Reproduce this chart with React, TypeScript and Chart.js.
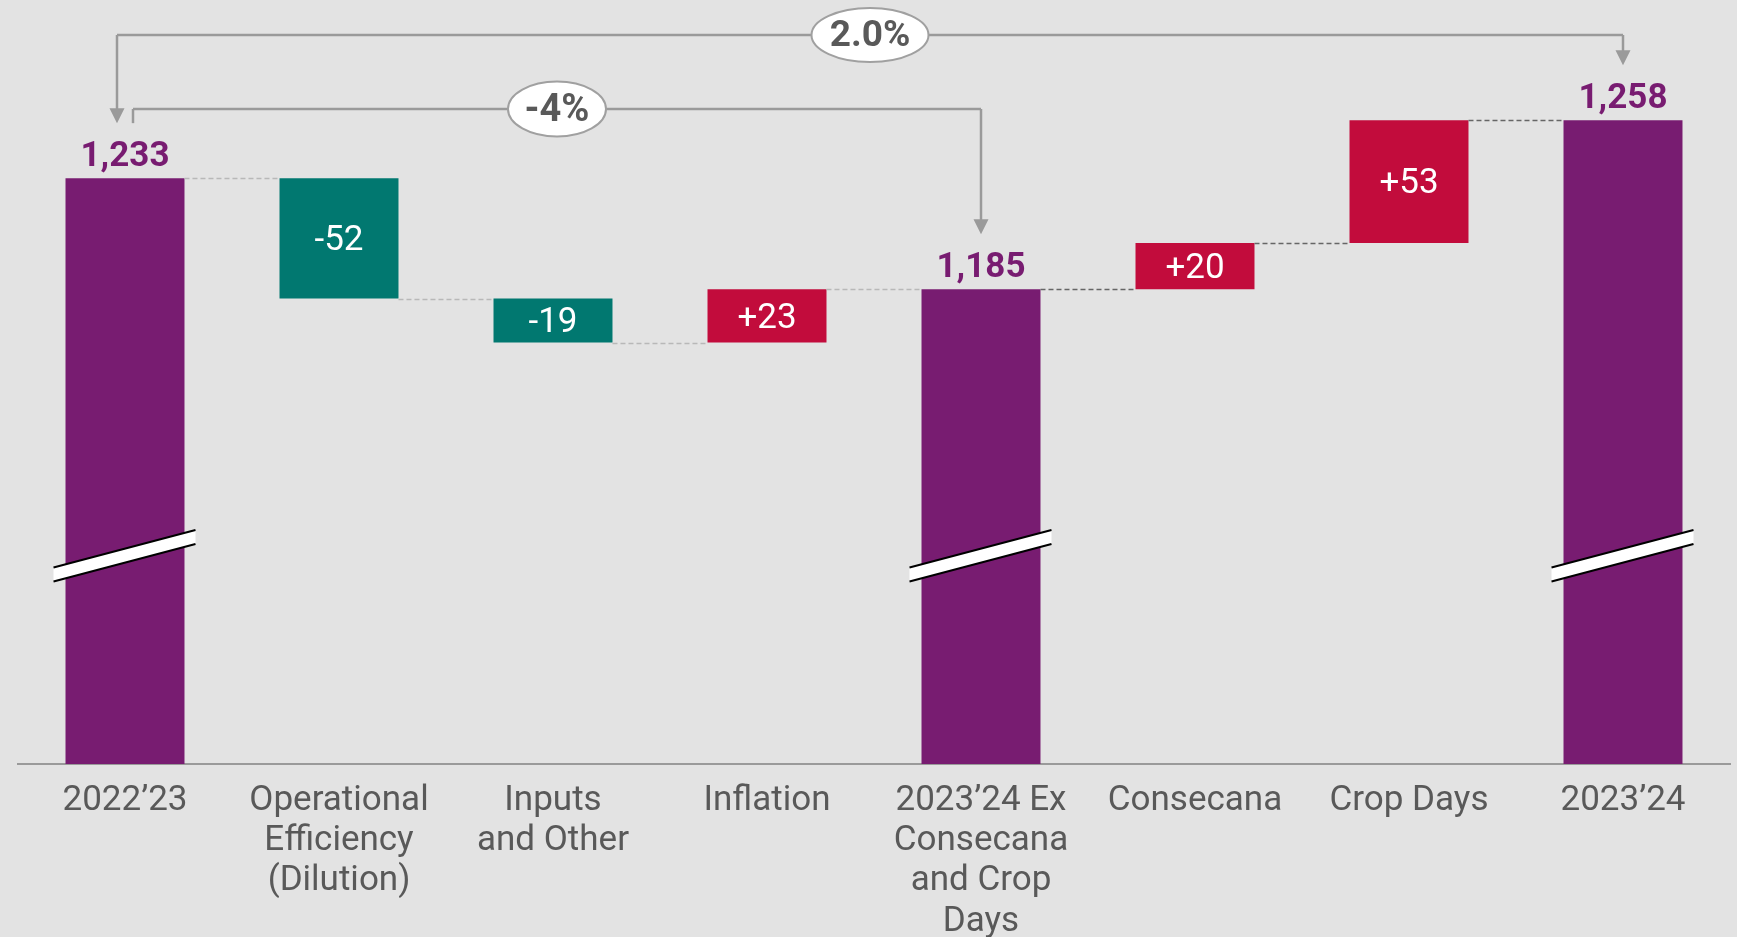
import React, { useEffect, useRef } from 'react';
import { Chart, registerables } from 'chart.js';

Chart.register(...registerables);

// ---------- data ----------
const categories: (string | string[])[] = [
  '2022’23',
  ['Operational', 'Efficiency', '(Dilution)'],
  ['Inputs', 'and Other'],
  'Inflation',
  ['2023’24 Ex', 'Consecana', 'and Crop', 'Days'],
  'Consecana',
  'Crop Days',
  '2023’24',
];
const totalValues: (number | null)[] = [1233, null, null, null, 1185, null, null, 1258];
const deltaValues: (number | null)[] = [null, -52, -19, 23, null, 20, 53, null];
const axisMin = 980;
const axisMax = 1300;
const breakValue = 1070;
const bracketFrom = [0, 0];
const bracketTo = [7, 4];
const bracketText = ['2.0%', '-4%'];

// ---------- styles ----------
const BG = '#e3e3e3';
const PURPLE = '#781c71';
const TEAL = '#017870';
const RED = '#c20c3c';
const TEXT = '#595959';
const FONT = 'Roboto, "Noto Sans", sans-serif';

// build floating ranges and running levels
const ranges: [number, number][] = [];
const levels: number[] = [];
const colors: string[] = [];
{
  let running = 0;
  for (let i = 0; i < categories.length; i++) {
    const t = totalValues[i];
    const d = deltaValues[i];
    if (t != null) {
      ranges.push([axisMin, t]);
      running = t;
      colors.push(PURPLE);
    } else if (d != null) {
      const end = running + d;
      ranges.push([Math.min(running, end), Math.max(running, end)]);
      running = end;
      colors.push(d < 0 ? TEAL : RED);
    }
    levels.push(running);
  }
}

const customPlugin = {
  id: 'waterfallExtras',
  beforeDraw(chart: any) {
    const ctx = chart.ctx;
    ctx.save();
    ctx.fillStyle = BG;
    ctx.fillRect(0, 0, chart.width, chart.height);
    ctx.restore();
  },
  afterDatasetsDraw(chart: any) {
    const ctx: CanvasRenderingContext2D = chart.ctx;
    const meta = chart.getDatasetMeta(0);
    const yScale = chart.scales.y;
    const bars = meta.data.map((el: any) => {
      const top = Math.min(el.y, el.base);
      const bottom = Math.max(el.y, el.base);
      return { x: el.x, w: el.width, top, bottom };
    });

    ctx.save();
    // connectors
    for (let i = 0; i < bars.length - 1; i++) {
      const a = bars[i];
      const b = bars[i + 1];
      const yy = Math.round(yScale.getPixelForValue(levels[i])) + 0.5;
      ctx.beginPath();
      ctx.setLineDash([5, 3]);
      ctx.strokeStyle = i >= 4 ? '#666666' : '#b8b8b8';
      ctx.lineWidth = 1.5;
      ctx.moveTo(a.x + a.w / 2, yy);
      ctx.lineTo(b.x - b.w / 2, yy);
      ctx.stroke();
    }
    ctx.setLineDash([]);

    // axis breaks on total bars
    const slope = 0.265;
    for (let i = 0; i < bars.length; i++) {
      if (totalValues[i] == null) continue;
      const b = bars[i];
      const yc = yScale.getPixelForValue(breakValue);
      const x0 = b.x - b.w / 2 - 12;
      const x1 = b.x + b.w / 2 + 11;
      const yAt = (x: number) => yc - slope * (x - b.x);
      const half = 7;
      ctx.beginPath();
      ctx.moveTo(x0, yAt(x0) - half);
      ctx.lineTo(x1, yAt(x1) - half);
      ctx.lineTo(x1, yAt(x1) + half);
      ctx.lineTo(x0, yAt(x0) + half);
      ctx.closePath();
      ctx.fillStyle = '#ffffff';
      ctx.fill();
      ctx.strokeStyle = '#000000';
      ctx.lineWidth = 2;
      ctx.beginPath();
      ctx.moveTo(x0, yAt(x0) - half);
      ctx.lineTo(x1, yAt(x1) - half);
      ctx.moveTo(x0, yAt(x0) + half);
      ctx.lineTo(x1, yAt(x1) + half);
      ctx.stroke();
    }

    // labels
    for (let i = 0; i < bars.length; i++) {
      const b = bars[i];
      const t = totalValues[i];
      const d = deltaValues[i];
      ctx.textAlign = 'center';
      if (t != null) {
        ctx.fillStyle = PURPLE;
        ctx.font = `bold 35px ${FONT}`;
        ctx.textBaseline = 'alphabetic';
        ctx.fillText(t.toLocaleString('en-US'), b.x, b.top - 12);
      } else if (d != null) {
        ctx.fillStyle = '#ffffff';
        ctx.font = `35px ${FONT}`;
        ctx.textBaseline = 'middle';
        ctx.fillText((d > 0 ? '+' : '') + String(d), b.x, (b.top + b.bottom) / 2 + 3);
      }
    }

    // brackets
    const bracketY = [35, 109];
    const fromOffset = [-8, 8];
    const fromArrow = [true, false];
    const ellW = [117, 98];
    const ellH = [54, 55];
    const txtSize = [37, 38];
    const drawArrow = (x: number, yLine: number, tip: number) => {
      ctx.beginPath();
      ctx.moveTo(x, yLine);
      ctx.lineTo(x, tip - 12);
      ctx.stroke();
      ctx.beginPath();
      ctx.moveTo(x - 7.5, tip - 15);
      ctx.lineTo(x + 7.5, tip - 15);
      ctx.lineTo(x, tip);
      ctx.closePath();
      ctx.fill();
    };
    for (let k = 0; k < bracketFrom.length; k++) {
      const fa = bars[bracketFrom[k]];
      const tb = bars[bracketTo[k]];
      const yl = bracketY[k];
      const xa = fa.x + fromOffset[k];
      const xb = tb.x;
      const tipA = fa.top - 55;
      const tipB = tb.top - 55;
      ctx.strokeStyle = '#9a9a9a';
      ctx.fillStyle = '#9a9a9a';
      ctx.lineWidth = 2.5;
      ctx.beginPath();
      ctx.moveTo(xa, yl);
      ctx.lineTo(xb, yl);
      ctx.stroke();
      if (fromArrow[k]) {
        drawArrow(xa, yl, tipA);
      } else {
        ctx.beginPath();
        ctx.moveTo(xa, yl);
        ctx.lineTo(xa, tipA);
        ctx.stroke();
      }
      drawArrow(xb, yl, tipB);
      const cx = (xa + xb) / 2;
      ctx.beginPath();
      ctx.ellipse(cx, yl, ellW[k] / 2, ellH[k] / 2, 0, 0, Math.PI * 2);
      ctx.fillStyle = '#ffffff';
      ctx.fill();
      ctx.strokeStyle = '#a0a0a0';
      ctx.lineWidth = 2;
      ctx.stroke();
      ctx.fillStyle = TEXT;
      ctx.font = `bold ${txtSize[k]}px ${FONT}`;
      ctx.textAlign = 'center';
      ctx.textBaseline = 'middle';
      ctx.fillText(bracketText[k], cx, yl + 2);
    }
    ctx.restore();
  },
};

export default function App() {
  const ref = useRef<HTMLCanvasElement | null>(null);
  useEffect(() => {
    if (!ref.current) return;
    const chart = new Chart(ref.current, {
      type: 'bar',
      data: {
        labels: categories as any,
        datasets: [
          {
            data: ranges as any,
            backgroundColor: colors,
            borderWidth: 0,
            barPercentage: 0.556,
            categoryPercentage: 1,
          },
        ],
      },
      options: {
        animation: false,
        responsive: false,
        devicePixelRatio: 1,
        layout: { padding: { left: 18, right: 7, top: 23, bottom: 0 } },
        plugins: { legend: { display: false }, tooltip: { enabled: false } },
        scales: {
          x: {
            grid: { display: false },
            border: { display: true, color: '#9a9a9a', width: 2 },
            ticks: {
              color: TEXT,
              font: { family: FONT, size: 35, lineHeight: 1.15 },
              padding: 9,
              maxRotation: 0,
              autoSkip: false,
            },
            afterFit: (s: any) => {
              s.height = 173;
            },
          },
          y: {
            display: false,
            min: axisMin,
            max: axisMax,
          },
        },
      },
      plugins: [customPlugin],
    });
    return () => chart.destroy();
  }, []);
  return (
    <div style={{ position: 'absolute', left: 0, top: 0, width: 1737, height: 937, background: BG }}>
      <canvas ref={ref} width={1737} height={937} style={{ display: 'block' }} />
    </div>
  );
}
